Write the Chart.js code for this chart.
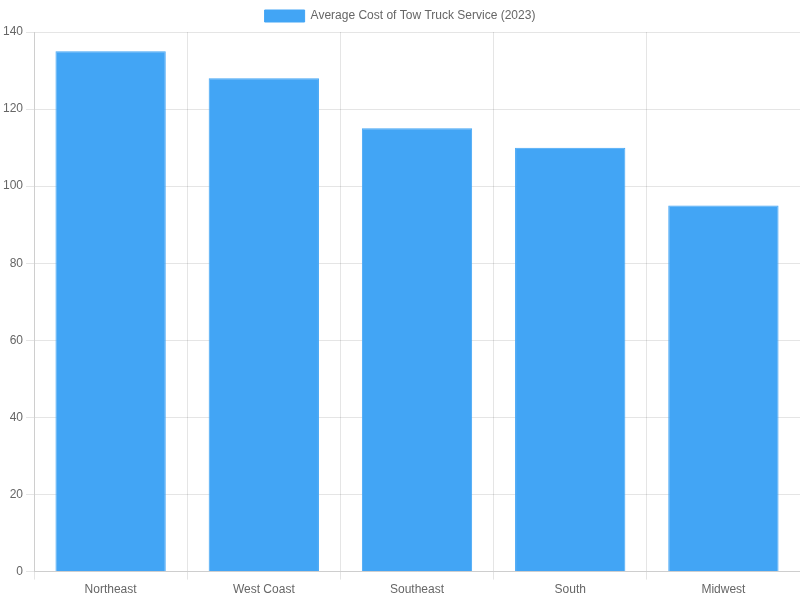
<!DOCTYPE html>
<html>
<head>
<meta charset="utf-8">
<script src="https://cdn.jsdelivr.net/npm/chart.js@4"></script>
<style>
  html, body { margin: 0; padding: 0; background: #fff; }
  #wrap { width: 800px; height: 600px; }
</style>
</head>
<body>
<div id="wrap"><canvas id="towChart"></canvas></div>
<script>
// Regions and average cost (USD)
const regions = ['Northeast', 'West Coast', 'Southeast', 'South', 'Midwest'];
const avgCost = [135, 128, 115, 110, 95];
const seriesLabel = 'Average Cost of Tow Truck Service (2023)';

const ctx = document.getElementById('towChart').getContext('2d');
new Chart(ctx, {
  type: 'bar',
  data: {
    labels: regions,
    datasets: [{
      label: seriesLabel,
      data: avgCost,
      backgroundColor: '#42A5F5',
      borderColor: '#42A5F5',
      borderWidth: 1
    }]
  },
  options: {
    responsive: true,
    maintainAspectRatio: false,
    animation: false,
    scales: {
      y: {
        beginAtZero: true,
        max: 140,
        ticks: { stepSize: 20 }
      }
    }
  }
});
</script>
</body>
</html>
